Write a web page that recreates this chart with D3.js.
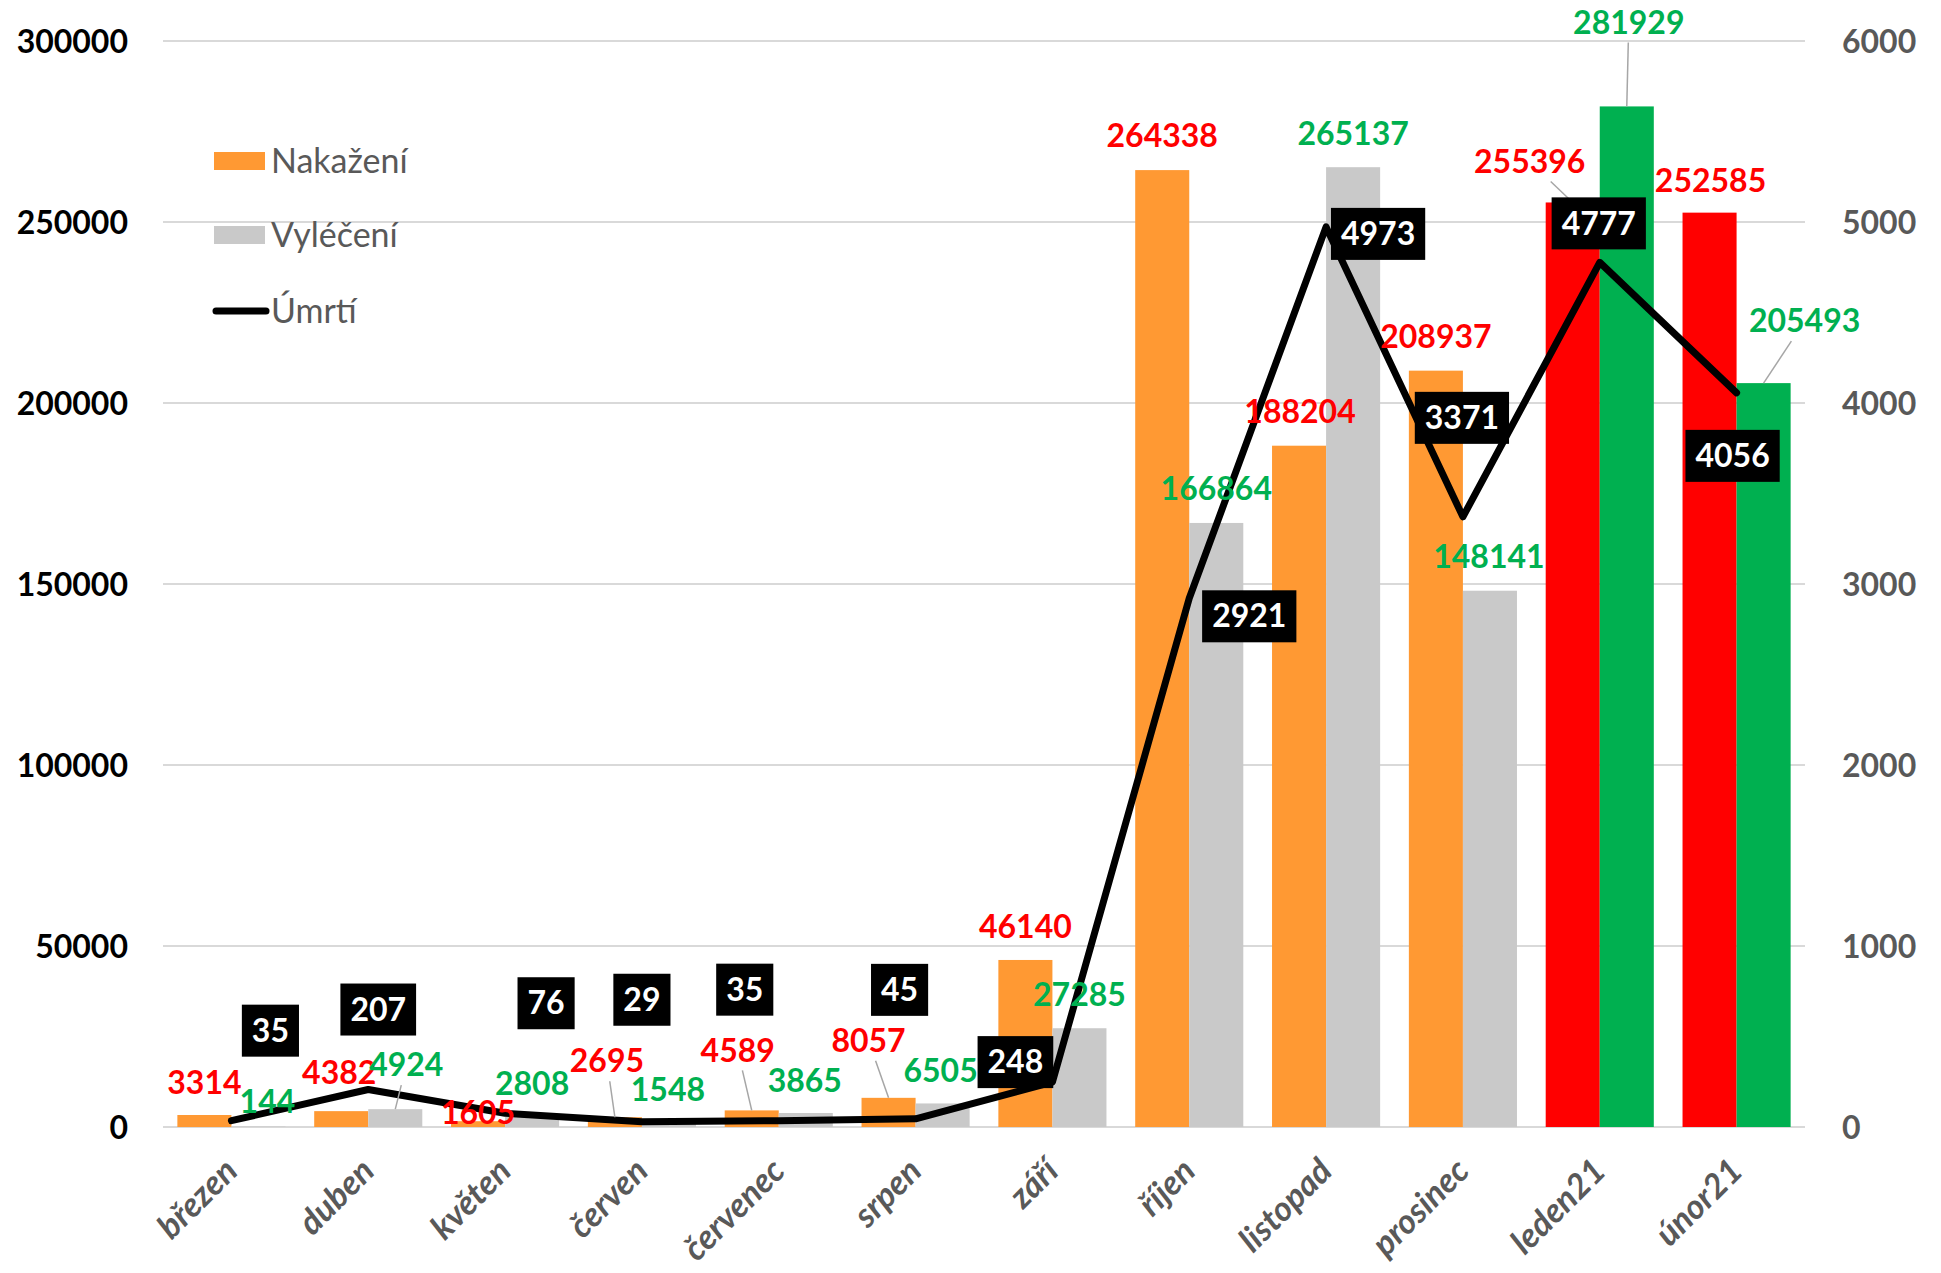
<!DOCTYPE html>
<html>
<head>
<meta charset="utf-8">
<script src="https://cdn.jsdelivr.net/npm/d3@7"></script>
<style>
  html, body { margin: 0; padding: 0; background: #fff; }
  svg { display: block; }
  text { font-family: Lato, "Open Sans", sans-serif; }
</style>
</head>
<body>
<svg id="chart" width="1941" height="1273"></svg>
<script>
// ---- data ----
const categories = ["březen","duben","květen","červen","červenec","srpen","září","říjen","listopad","prosinec","leden21","únor21"];
const nakazeni = [3314, 4382, 1605, 2695, 4589, 8057, 46140, 264338, 188204, 208937, 255396, 252585];
const vyleceni = [144, 4924, 2808, 1548, 3865, 6505, 27285, 166864, 265137, 148141, 281929, 205493];
const umrti    = [35, 207, 76, 29, 35, 45, 248, 2921, 4973, 3371, 4777, 4056];
const leftTicks  = [0, 50000, 100000, 150000, 200000, 250000, 300000];
const rightTicks = [0, 1000, 2000, 3000, 4000, 5000, 6000];
const seriesNames = ["Nakažení", "Vyléčení", "Úmrtí"];

// ---- layout / style (label nudges in px, relative to mark anchors) ----
const nakOffsets = [[0,-32],[-2,-38],[0,-8],[-8,-56],[-14,-60],[-20,-57],[0,-33],[0,-34],[1,-34],[0,-34],[-43,-41],[1,-32]];
const vylOffsets = [[9,-25],[11,-44],[0,-33],[-1,-32],[-1,-32],[-2,-33],[0,-33],[0,-34],[0,-33],[-1,-34],[2,-84],[41,-62]];
const umrOffsets = [[39,-90],[10,-80],[41,-110],[0,-122],[-34,-131],[-16,-129],[-37,-20],[60,18],[52,7],[-1,-99],[-1,-39],[-4,63]];
const highlightFrom = 10;
const C = { orange:"#FF9933", gray:"#C9C9C9", red:"#FF0000", green:"#00B050", grid:"#D9D9D9", axisText:"#595959" };

const svg = d3.select("#chart");
const pLeft = 163, pRight = 1805, pTop = 41, pBottom = 1127;

const x = d3.scaleBand().domain(categories).range([pLeft, pRight]).paddingInner(0.21).paddingOuter(0.105);
const xs = d3.scaleBand().domain(["n","v"]).range([0, x.bandwidth()]);
const y = d3.scaleLinear().domain([0, 300000]).range([pBottom, pTop]);
const y2 = d3.scaleLinear().domain([0, 6000]).range([pBottom, pTop]);

// gridlines
svg.append("g").selectAll("line").data(leftTicks).join("line")
  .attr("x1", pLeft).attr("x2", pRight)
  .attr("y1", d => y(d)).attr("y2", d => y(d))
  .attr("stroke", C.grid).attr("stroke-width", 2);

// left axis
const yAxis = d3.axisLeft(y).tickValues(leftTicks).tickSize(0).tickPadding(0).tickFormat(d => String(d));
const gl = svg.append("g").attr("transform", `translate(128,0)`).call(yAxis);
gl.select(".domain").remove();
gl.selectAll("text").attr("font-size", 32).attr("font-weight", 700).attr("fill", "#000")
  .attr("font-family", "Lato").attr("dy", "0.35em");

// right axis
const yAxis2 = d3.axisRight(y2).tickValues(rightTicks).tickSize(0).tickPadding(0).tickFormat(d => String(d));
const gr = svg.append("g").attr("transform", `translate(1842,0)`).call(yAxis2);
gr.select(".domain").remove();
gr.selectAll("text").attr("font-size", 32).attr("font-weight", 700).attr("fill", C.axisText)
  .attr("font-family", "Lato").attr("dy", "0.35em");

// bars
const rows = categories.map((c, i) => ({ c, i, n: nakazeni[i], v: vyleceni[i], u: umrti[i] }));
const gb = svg.append("g");
gb.selectAll("rect.n").data(rows).join("rect").attr("class","n")
  .attr("x", d => x(d.c) + xs("n")).attr("width", xs.bandwidth())
  .attr("y", d => y(d.n)).attr("height", d => y(0) - y(d.n))
  .attr("fill", d => d.i >= highlightFrom ? C.red : C.orange);
gb.selectAll("rect.v").data(rows).join("rect").attr("class","v")
  .attr("x", d => x(d.c) + xs("v")).attr("width", xs.bandwidth())
  .attr("y", d => y(d.v)).attr("height", d => y(0) - y(d.v))
  .attr("fill", d => d.i >= highlightFrom ? C.green : C.gray);

// category labels
const xAxis = d3.axisBottom(x).tickSize(0).tickPadding(0);
const gx = svg.append("g").attr("transform", `translate(0,${pBottom})`).call(xAxis);
gx.select(".domain").remove();
gx.selectAll(".tick text")
  .attr("font-size", 34).attr("font-weight", 700).attr("font-style", "italic")
  .attr("fill", C.axisText).attr("font-family", "Lato")
  .attr("text-anchor", "end").attr("dy", 0).attr("y", 0)
  .attr("transform", "translate(8,46) rotate(-45)");

// line
const cx = d => x(d.c) + x.bandwidth() / 2;
svg.append("path").datum(rows)
  .attr("d", d3.line().x(cx).y(d => y2(d.u)))
  .attr("fill", "none").attr("stroke", "#000").attr("stroke-width", 7)
  .attr("stroke-linejoin", "round").attr("stroke-linecap", "round");

// bar value labels with leader lines
function barLabels(key, values, offsets, colorFn) {
  const g = svg.append("g");
  rows.forEach(d => {
    const ax = x(d.c) + xs(key) + xs.bandwidth() / 2;
    const ay = y(values[d.i]);
    const [dx, dy] = offsets[d.i];
    const lx = ax + dx, ly = ay + dy;
    if (dy < -40 || Math.abs(dx) > 30) {
      const vx = ax - lx, vy = ay - ly;
      const t = Math.min(1, 20 / Math.abs(vy));
      g.append("line").attr("x1", lx + vx * t).attr("y1", ly + vy * t)
        .attr("x2", ax).attr("y2", ay)
        .attr("stroke", "#A6A6A6").attr("stroke-width", 1.5);
    }
    g.append("text").attr("x", lx).attr("y", ly).attr("dy", "0.35em")
      .attr("text-anchor", "middle").attr("font-size", 32).attr("font-weight", 700)
      .attr("fill", colorFn(d)).text(values[d.i]);
  });
}
barLabels("n", nakazeni, nakOffsets, () => C.red);
barLabels("v", vyleceni, vylOffsets, () => C.green);

// death labels (black boxes)
const gu = svg.append("g");
rows.forEach(d => {
  const [dx, dy] = umrOffsets[d.i];
  const lx = cx(d) + dx, ly = y2(d.u) + dy;
  const t = gu.append("text").attr("x", lx).attr("y", ly).attr("dy", "0.35em")
    .attr("text-anchor", "middle").attr("font-size", 32).attr("font-weight", 700)
    .attr("fill", "#fff").text(d.u);
  const w = t.node().getComputedTextLength() + 20;
  gu.insert("rect", "text").attr("x", lx - w / 2).attr("y", ly - 26).attr("width", w).attr("height", 52)
    .attr("fill", "#000");
});

// legend
const lg = svg.append("g");
const legendY = [161, 235, 311];
lg.append("rect").attr("x", 214).attr("y", legendY[0] - 9).attr("width", 51).attr("height", 18).attr("fill", C.orange);
lg.append("rect").attr("x", 214).attr("y", legendY[1] - 9).attr("width", 51).attr("height", 18).attr("fill", C.gray);
lg.append("line").attr("x1", 216).attr("x2", 266).attr("y1", legendY[2]).attr("y2", legendY[2])
  .attr("stroke", "#000").attr("stroke-width", 7).attr("stroke-linecap", "round");
seriesNames.forEach((s, i) => {
  lg.append("text").attr("x", 271).attr("y", legendY[i]).attr("dy", "0.35em")
    .attr("font-size", 34).attr("fill", C.axisText).text(s);
});
</script>
</body>
</html>
